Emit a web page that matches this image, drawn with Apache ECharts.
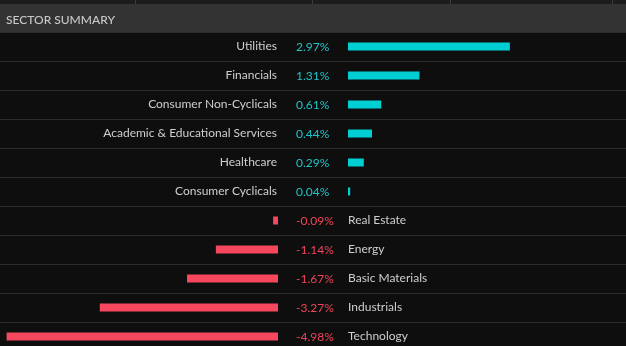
<!DOCTYPE html>
<html>
<head>
<meta charset="utf-8">
<script src="https://cdn.jsdelivr.net/npm/echarts@6/dist/echarts.min.js"></script>
<style>
html,body{margin:0;padding:0;background:#0e0e0e;}
#chart{width:626px;height:346px;}
</style>
</head>
<body>
<div id="chart"></div>
<script>
const title = 'SECTOR SUMMARY';
const sectors = ['Utilities','Financials','Consumer Non-Cyclicals','Academic & Educational Services','Healthcare','Consumer Cyclicals','Real Estate','Energy','Basic Materials','Industrials','Technology'];
const changes = [2.97, 1.31, 0.61, 0.44, 0.29, 0.04, -0.09, -1.14, -1.67, -3.27, -4.98];

const posData = changes.map(v => v >= 0 ? v : '-');
const negData = changes.map(v => v < 0 ? v : '-');
const fmtPct = v => v.toFixed(2) + '%';

const FONT = 'Lato';
const TEAL = '#00ced3';
const RED = '#f5475d';
const NAME_COLOR = '#cfcfcf';
const LBL_PAD = [2, 0, 0, 0];

const chart = echarts.init(document.getElementById('chart'), null, {renderer: 'canvas'});
const catAxisBase = {
  type: 'category', data: sectors, inverse: true,
  axisLine: {show: false}, axisTick: {show: false}, splitLine: {show: false}
};
chart.setOption({
  backgroundColor: '#0e0e0e',
  animation: false,
  title: {
    text: title, left: 6, top: 14, padding: 0,
    textStyle: {color: '#c8c8c8', fontSize: 12, fontWeight: 500, fontFamily: FONT}
  },
  graphic: [
    {type: 'rect', z: -10, shape: {x: 0, y: 0, width: 626, height: 4}, style: {fill: '#1c1c1c'}},
    {type: 'rect', z: -10, shape: {x: 0, y: 4, width: 626, height: 28}, style: {fill: '#333333'}},
    {type: 'line', z: -9, shape: {x1: 135.5, y1: 0, x2: 135.5, y2: 4}, style: {stroke: '#3c3c3c', lineWidth: 1}},
    {type: 'line', z: -9, shape: {x1: 312.5, y1: 0, x2: 312.5, y2: 4}, style: {stroke: '#3c3c3c', lineWidth: 1}},
    {type: 'line', z: -9, shape: {x1: 450.5, y1: 0, x2: 450.5, y2: 4}, style: {stroke: '#3c3c3c', lineWidth: 1}},
    {type: 'line', z: -9, shape: {x1: 612.5, y1: 0, x2: 612.5, y2: 4}, style: {stroke: '#3c3c3c', lineWidth: 1}}
  ],
  grid: [
    {left: 5.5, width: 272.5, top: 32, height: 319, outerBoundsMode: 'none', containLabel: false},
    {left: 348, width: 272.5, top: 32, height: 319, outerBoundsMode: 'none', containLabel: false},
    {left: 0, width: 626, top: 32, height: 319, outerBoundsMode: 'none', containLabel: false}
  ],
  xAxis: [
    {gridIndex: 0, type: 'value', min: -5, max: 0, show: false},
    {gridIndex: 1, type: 'value', min: 0, max: 5, show: false},
    {gridIndex: 2, type: 'value', min: 0, max: 1, show: false}
  ],
  yAxis: [
    Object.assign({}, catAxisBase, {gridIndex: 0, position: 'right', axisLabel: {show: false}}),
    Object.assign({}, catAxisBase, {gridIndex: 1, position: 'left',
      axisLabel: {interval: 0, margin: 71, align: 'right', color: NAME_COLOR, fontSize: 12, fontFamily: FONT, padding: LBL_PAD,
        formatter: (v, i) => changes[i] >= 0 ? v : ''}}),
    Object.assign({}, catAxisBase, {gridIndex: 1, position: 'left',
      axisLabel: {interval: 0, margin: 52, align: 'left', fontSize: 12, fontFamily: FONT, padding: LBL_PAD,
        formatter: (v, i) => (changes[i] >= 0 ? '{p|' : '{n|') + fmtPct(changes[i]) + '}',
        rich: {p: {color: '#1fc4c9', fontSize: 12, fontFamily: FONT}, n: {color: '#f0455a', fontSize: 12, fontFamily: FONT}}}}),
    Object.assign({}, catAxisBase, {gridIndex: 1, position: 'left',
      axisLabel: {interval: 0, margin: 0, align: 'left', color: NAME_COLOR, fontSize: 12, fontFamily: FONT, padding: LBL_PAD,
        formatter: (v, i) => changes[i] < 0 ? v : ''}}),
    Object.assign({}, catAxisBase, {gridIndex: 2, position: 'left', axisLabel: {show: false},
      splitLine: {show: true, lineStyle: {color: '#2a2a2a', width: 1}}})
  ],
  series: [
    {type: 'bar', xAxisIndex: 0, yAxisIndex: 0, data: negData, barWidth: 8, itemStyle: {color: RED}},
    {type: 'bar', xAxisIndex: 1, yAxisIndex: 1, data: posData, barWidth: 8, itemStyle: {color: TEAL}}
  ]
});
</script>
</body>
</html>
